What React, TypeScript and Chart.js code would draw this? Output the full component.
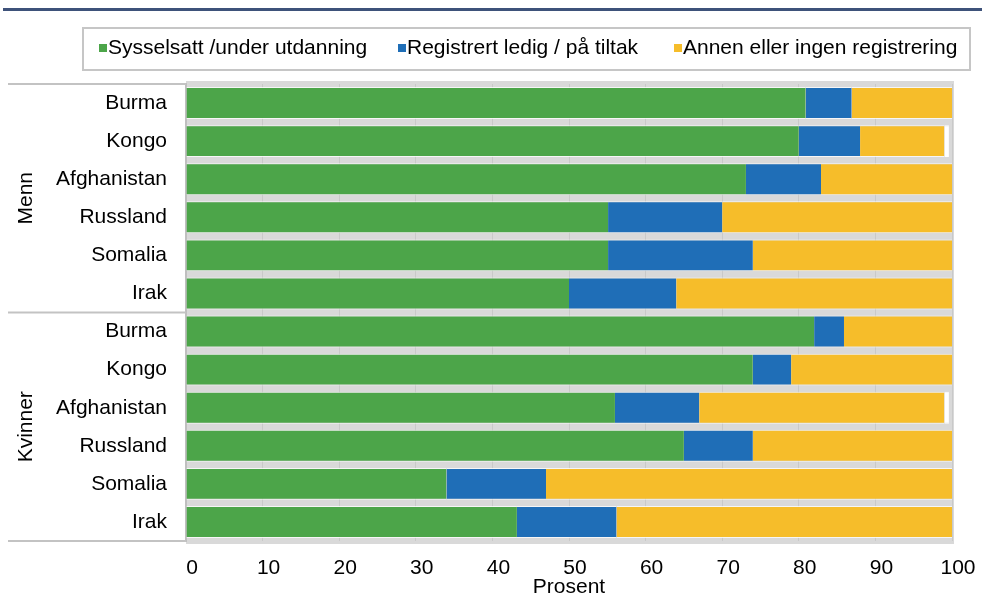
import { useEffect, useRef } from 'react';
import { Chart, registerables } from 'chart.js';

Chart.register(...registerables);

const groups = ['Menn', 'Kvinner'];
const countries = ['Burma', 'Kongo', 'Afghanistan', 'Russland', 'Somalia', 'Irak'];
const categories = [...countries, ...countries];
const seriesNames = [
  'Sysselsatt /under utdanning',
  'Registrert ledig / på tiltak',
  'Annen eller ingen registrering',
];
// Menn (6) followed by Kvinner (6)
const employed = [80.9, 80.0, 73.1, 55.1, 55.1, 50.0, 82.0, 74.0, 56.0, 65.0, 34.0, 43.2];
const unemployed = [6.0, 8.0, 9.8, 14.9, 18.9, 14.0, 3.9, 5.0, 11.0, 9.0, 13.0, 13.0];
const other = [13.1, 11.0, 17.3, 30.0, 26.0, 36.0, 14.1, 21.0, 32.0, 26.0, 53.0, 43.8];
const unknown = [0, 0.6, 0, 0, 0, 0, 0, 0, 0.6, 0, 0, 0];
const xTicks = [0, 10, 20, 30, 40, 50, 60, 70, 80, 90, 100];
const xTitle = 'Prosent';

const seriesColors = ['#4ca549', '#1f6eb7', '#f6bd2a'];
const FONT = "'Liberation Sans', Arial, sans-serif";
const FS = 21;

const framePlugin = {
  id: 'frame',
  beforeDraw(chart: any) {
    const { ctx, chartArea } = chart;
    const { left, right, top, bottom } = chartArea;
    ctx.save();
    ctx.fillStyle = '#3e527a';
    ctx.fillRect(3, 8, 979, 3);
    ctx.fillStyle = '#d9d9d9';
    ctx.fillRect(left, top - 3, right + 2 - left, bottom + 3 - (top - 3));
    ctx.restore();
  },
  afterDraw(chart: any) {
    const { ctx, chartArea, scales } = chart;
    const y = scales.y;
    ctx.save();
    ctx.strokeStyle = '#c6c6c6';
    ctx.lineWidth = 2;
    ctx.strokeRect(83, 28, 887, 42);
    const itemX = [99, 398, 674];
    ctx.font = `${FS}px ${FONT}`;
    ctx.textBaseline = 'middle';
    ctx.textAlign = 'left';
    for (let i = 0; i < 3; i++) {
      const ds = chart.data.datasets[i];
      ctx.fillStyle = ds.backgroundColor;
      ctx.fillRect(itemX[i], 44, 8, 8);
      ctx.fillStyle = '#000';
      ctx.fillText(ds.label, itemX[i] + 9, 48.5);
    }
    const n = countries.length;
    const bounds: number[] = [chartArea.top];
    for (let g = 1; g < groups.length; g++) {
      bounds.push((y.getPixelForValue(g * n - 1) + y.getPixelForValue(g * n)) / 2);
    }
    bounds.push(chartArea.bottom);
    ctx.strokeStyle = '#c3c3c3';
    ctx.lineWidth = 2;
    for (const b of bounds) {
      ctx.beginPath();
      ctx.moveTo(8, b);
      ctx.lineTo(chartArea.left, b);
      ctx.stroke();
    }
    ctx.fillStyle = '#000';
    ctx.font = `${FS}px ${FONT}`;
    ctx.textAlign = 'center';
    ctx.textBaseline = 'middle';
    for (let g = 0; g < groups.length; g++) {
      const cy = (bounds[g] + bounds[g + 1]) / 2;
      ctx.save();
      ctx.translate(26, cy);
      ctx.rotate(-Math.PI / 2);
      ctx.fillText(groups[g], 0, 0);
      ctx.restore();
    }
    ctx.restore();
  },
};

export default function App() {
  const ref = useRef<HTMLCanvasElement | null>(null);
  useEffect(() => {
    if (!ref.current) return;
    const border = { top: 1, bottom: 1, left: 0, right: 0 };
    const common = {
      borderColor: 'rgba(255,255,255,0.75)',
      borderWidth: border,
      borderSkipped: false,
      barPercentage: 0.84,
      categoryPercentage: 1,
    };
    const chart = new Chart(ref.current, {
      type: 'bar',
      data: {
        labels: categories,
        datasets: [
          { label: seriesNames[0], data: employed, backgroundColor: seriesColors[0], ...common },
          { label: seriesNames[1], data: unemployed, backgroundColor: seriesColors[1], ...common },
          { label: seriesNames[2], data: other, backgroundColor: seriesColors[2], ...common },
          { label: '', data: unknown, backgroundColor: '#ffffff', ...common, borderColor: '#ffffff' },
        ],
      },
      options: {
        indexAxis: 'y',
        animation: false,
        responsive: false,
        maintainAspectRatio: false,
        layout: { padding: { left: 0, right: 30, top: 84, bottom: 0 } },
        plugins: {
          legend: { display: false },
          tooltip: { enabled: false },
          title: { display: false },
        },
        scales: {
          x: {
            type: 'linear',
            stacked: true,
            min: 0,
            max: 100,
            afterBuildTicks: (scale: any) => {
              scale.ticks = xTicks.map((v) => ({ value: v }));
            },
            afterFit: (scale: any) => {
              scale.height = 55;
              scale.paddingLeft = 0;
              scale.paddingRight = 0;
            },
            grid: { color: '#c9c9c9', lineWidth: 1, drawTicks: false },
            border: { display: false },
            ticks: {
              color: '#000',
              font: { family: FONT, size: FS },
              padding: 15,
              labelOffset: 6,
              maxRotation: 0,
            },
            title: {
              display: true,
              text: xTitle,
              color: '#000',
              font: { family: FONT, size: FS, lineHeight: 0.8 },
              padding: { top: 0, bottom: 0 },
            },
          },
          y: {
            type: 'category',
            stacked: true,
            afterFit: (scale: any) => {
              scale.width = 186;
              scale.paddingTop = 0;
              scale.paddingBottom = 0;
            },
            grid: { display: true, color: 'rgba(0,0,0,0)', drawTicks: false },
            border: { display: true, color: '#bfbfbf', width: 2 },
            ticks: {
              color: '#000',
              font: { family: FONT, size: FS },
              padding: 19,
              autoSkip: false,
            },
          },
        },
      },
      plugins: [framePlugin],
    } as any);
    return () => chart.destroy();
  }, []);
  return (
    <div style={{ position: 'fixed', left: 0, top: 0, width: 982, height: 596, background: '#fff' }}>
      <canvas ref={ref} width={982} height={596} style={{ display: 'block', width: 982, height: 596 }} />
    </div>
  );
}
